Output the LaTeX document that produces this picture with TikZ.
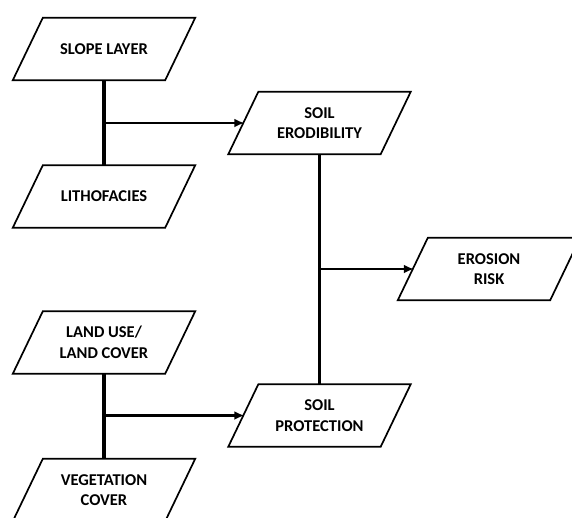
\documentclass[tikz,border=0pt]{standalone}
\usepackage{fontspec}
\setmainfont{Carlito}
\usetikzlibrary{calc,arrows.meta}
\tikzset{
  para/.style={minimum width=182pt, minimum height=62pt, inner sep=0pt, align=center,
    font=\bfseries\fontsize{16.5}{20.5}\selectfont},
  pedge/.style={line width=1.7pt, line join=miter},
  trunk/.style={line width=3.6pt},
  feed/.style={line width=2.8pt, -{Latex[length=10pt,width=9pt]}, shorten >=-1pt},
}
\newcommand{\paradraw}[1]{%
  \draw[pedge] (#1.south west) -- ($(#1.north west)+(30pt,0)$) -- (#1.north east)
     -- ($(#1.south east)+(-30pt,0)$) -- cycle;}
\begin{document}
\begin{tikzpicture}[x=1pt,y=-1pt]
\useasboundingbox (0,0) rectangle (572,517);
\node[para] (slope) at (104,49) {SLOPE LAYER};
\node[para] (litho) at (104,196.5) {LITHOFACIES};
\node[para] (land) at (104,342.5) {LAND USE/\\LAND COVER};
\node[para] (veg) at (104,490) {VEGETATION\\COVER};
\node[para] (erod) at (319.5,123) {SOIL\\ERODIBILITY};
\node[para] (prot) at (319.5,415.5) {SOIL\\PROTECTION};
\node[para] (risk) at (489,269) {EROSION\\RISK};
\foreach \n in {slope,litho,land,veg,erod,prot,risk} {\paradraw{\n}}
\coordinate (j1) at (slope.south |- erod.west);
\coordinate (j2) at (land.south |- prot.west);
\coordinate (j3) at (erod.south |- risk.west);
\draw[trunk] (slope.south) -- (litho.north);
\draw[trunk] (land.south) -- (veg.north);
\draw[trunk] (erod.south) -- (prot.north);
\draw[feed] (j1) -- ($(erod.west)+(15pt,0)$);
\draw[feed] (j2) -- ($(prot.west)+(15pt,0)$);
\draw[feed] (j3) -- ($(risk.west)+(15pt,0)$);
\end{tikzpicture}
\end{document}
